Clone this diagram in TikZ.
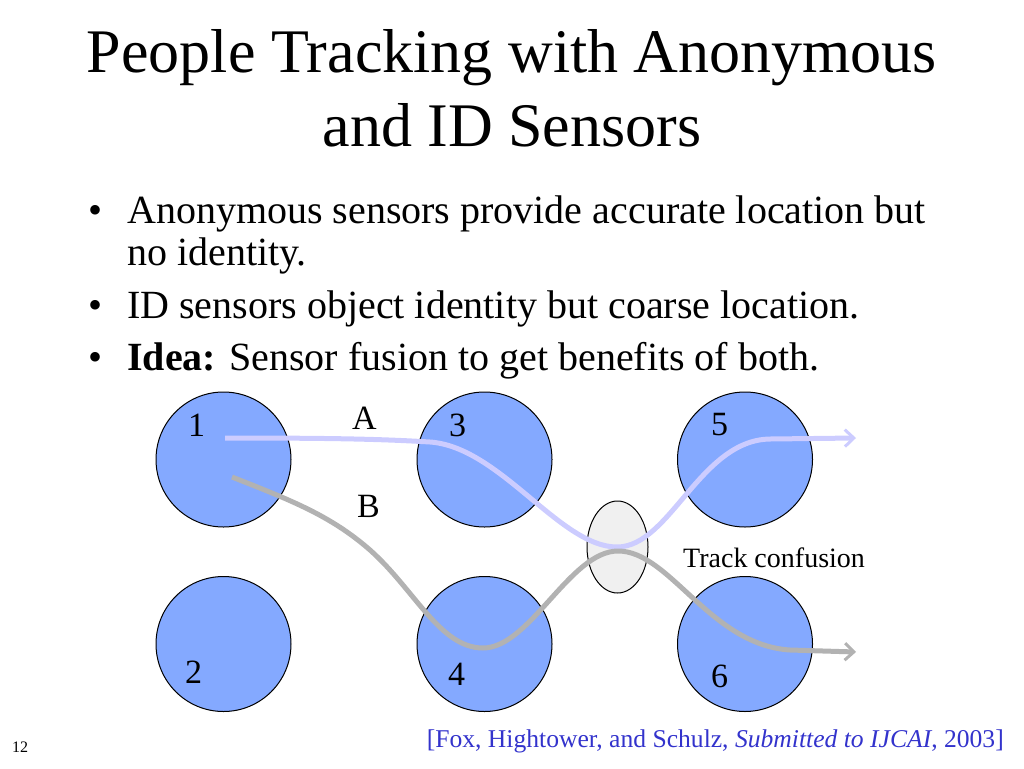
\documentclass[tikz,border=0pt]{standalone}
\usepackage{fontspec}
\setmainfont{Liberation Serif}
\usetikzlibrary{arrows.meta, shapes.geometric}
\definecolor{zonefill}{RGB}{132,169,255}
\definecolor{trackA}{RGB}{204,204,255}
\definecolor{trackB}{RGB}{178,178,178}
\definecolor{confusefill}{RGB}{240,240,240}
\definecolor{citeblue}{RGB}{51,51,204}
\newcommand{\fs}[1]{\fontsize{#1}{#1}\selectfont}

\begin{document}
\begin{tikzpicture}[x=1pt,y=-1pt,
    zone/.style={circle,draw,line width=1pt,fill=zonefill,minimum size=135pt,inner sep=0pt},
    num/.style={anchor=base west,inner sep=0pt,font=\fs{34}},
    txt/.style={anchor=base west,inner sep=0pt,font=\fs{40}},
    track/.style={line width=5pt,-{Straight Barb[length=9pt,width=17pt,line width=3pt]}}]
    \useasboundingbox (0,0) rectangle (1024,768);
    % title
    \node[anchor=base,inner sep=0pt,font=\fs{62}] (t1) at (512,72) {People Tracking with Anonymous};
    \node[anchor=base,inner sep=0pt,font=\fs{62}] (t2) at (512,146) {and ID Sensors};
    % bullets
    \foreach \y in {223,318,370} {
        \node[txt] at (88,\y) {\textbullet};
    }
    \node[txt] (b1) at (127,223) {Anonymous sensors provide accurate location but};
    \node[txt] (b1b) at (127,265) {no identity.};
    \node[txt] (b2) at (127,318) {ID sensors object identity but coarse location.};
    \node[txt] (b3) at (127,370) {\textbf{Idea:} Sensor fusion to get benefits of both.};
    % zones
    \node[zone] (z1) at (223.5,459.5) {};
    \node[zone] (z2) at (223.5,644) {};
    \node[zone] (z3) at (484.5,459.5) {};
    \node[zone] (z4) at (484.5,644) {};
    \node[zone] (z5) at (745,459.5) {};
    \node[zone] (z6) at (745,644) {};
    \node[num] (n1) at (188,436) {1};
    \node[num] (n2) at (185,683) {2};
    \node[num] (n3) at (449,436) {3};
    \node[num] (n4) at (448,685) {4};
    \node[num] (n5) at (711,435) {5};
    \node[num] (n6) at (711,687) {6};
    \node[num] (la) at (352,429) {A};
    \node[num] (lb) at (357,517) {B};
    % track confusion
    \node[ellipse,draw,line width=1pt,fill=confusefill,minimum width=61pt,minimum height=92pt,inner sep=0pt] (cf) at (617.5,547) {};
    \node[anchor=base west,inner sep=0pt,font=\fs{28}] (cft) at (683,567) {Track confusion};
    % tracks
    \coordinate (a0) at (225,438);
    \coordinate (a1) at (856,438);
    \coordinate (b0) at (232,477);
    \coordinate (b1) at (856,652);
    \draw[track,trackA] (a0) .. controls (330,438) and (380,439) .. (430,442)
        .. controls (500,447) and (560,547) .. (617,547)
        .. controls (670,547) and (700,440) .. (770,439) -- (a1);
    \draw[track,trackB] (b0) .. controls (290,500) and (330,515) .. (370,550)
        .. controls (415,590) and (440,648) .. (483,648)
        .. controls (530,648) and (570,551) .. (618,551)
        .. controls (670,551) and (710,645) .. (790,650) -- (b1);
    % footer
    \node[anchor=base west,inner sep=0pt,font=\fs{16}] (pg) at (12,752) {12};
    \node[anchor=base east,inner sep=0pt,font=\fs{25.6},text=citeblue] (cite) at (1004,747)
        {[Fox, Hightower, and Schulz, \textit{Submitted to IJCAI}, 2003]};
\end{tikzpicture}
\end{document}
